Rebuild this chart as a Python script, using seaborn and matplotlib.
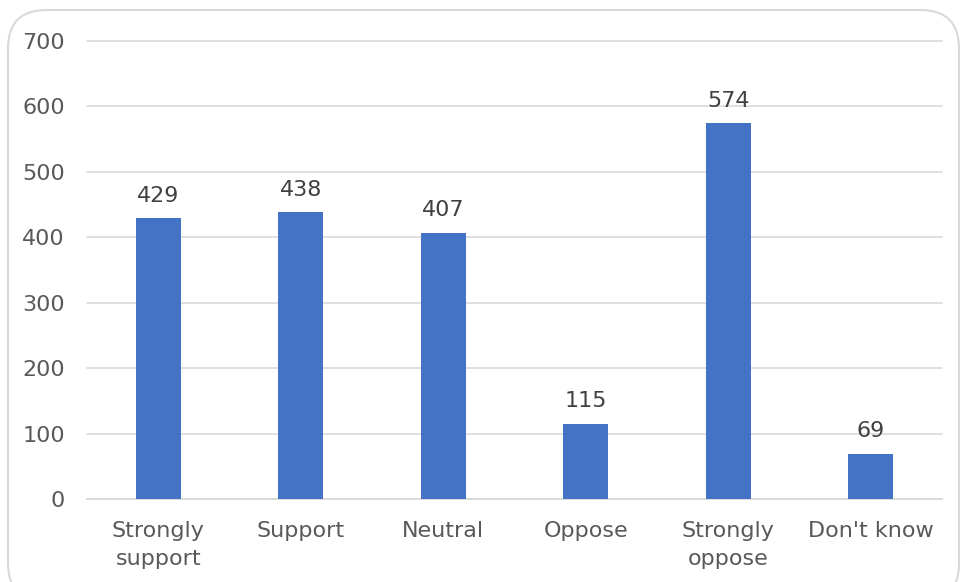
import matplotlib
matplotlib.use("Agg")
import matplotlib.pyplot as plt
from matplotlib.patches import FancyBboxPatch
import seaborn as sns
import pandas as pd

categories = ["Strongly\nsupport", "Support", "Neutral", "Oppose", "Strongly\noppose", "Don't know"]
counts = [429, 438, 407, 115, 574, 69]
y_ticks = [0, 100, 200, 300, 400, 500, 600, 700]

sns.set_theme(style="white")
plt.rcParams["font.family"] = ["DejaVu Sans"]

text_color = "#595959"
grid_color = "#d9d9d9"
bar_color = "#4472C4"

W, H = 960, 582
fig = plt.figure(figsize=(W / 100, H / 100), dpi=100)
fig.patch.set_facecolor("white")

# rounded chart-area frame, drawn beneath the axes
frame = FancyBboxPatch((8 / W, -20 / H), (959 - 8) / W, (572 + 20) / H,
                       boxstyle="round,pad=0,rounding_size=0.04",
                       transform=fig.transFigure, facecolor="none",
                       edgecolor=grid_color, linewidth=1.5, zorder=-1,
                       mutation_aspect=W / H)
fig.patches.append(frame)

ax = fig.add_axes([87 / W, (H - 499) / H, (942 - 87) / W, (499 - 41) / H])
ax.set_facecolor("none")
ax.set_zorder(1)

df = pd.DataFrame({"category": categories, "count": counts})
sns.barplot(data=df, x="category", y="count", color=bar_color, width=0.315,
            saturation=1, linewidth=0, ax=ax, zorder=3)

ax.set_ylim(0, 700)
ax.set_yticks(y_ticks)
ax.set_xlim(-0.5, len(categories) - 0.5)
ax.yaxis.grid(True, color=grid_color, linewidth=1.2, zorder=0)
for gl in ax.get_ygridlines():
    gl.set_clip_on(False)
ax.set_axisbelow(True)
for s in ["top", "right", "left"]:
    ax.spines[s].set_visible(False)
ax.spines["bottom"].set_color(grid_color)
ax.spines["bottom"].set_linewidth(1.2)
ax.set_xlabel("")
ax.set_ylabel("")
ax.tick_params(axis="both", length=0, colors=text_color, labelsize=16)
ax.tick_params(axis="y", pad=16)
ax.tick_params(axis="x", pad=16)
for lbl in ax.get_xticklabels():
    lbl.set_linespacing(1.5)

for cont in ax.containers:
    ax.bar_label(cont, labels=[str(v) for v in counts], padding=9,
                 color="#404040", fontsize=16)

fig.savefig("out.png", dpi=100)
